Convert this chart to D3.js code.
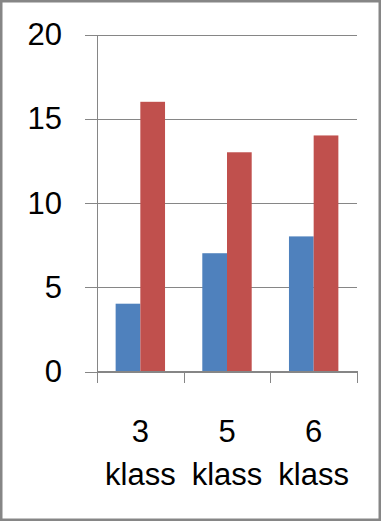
<!DOCTYPE html>
<html>
<head>
<meta charset="utf-8">
<style>
  body { margin: 0; background: #fff; }
  .grid line, .axis line, .axis path { stroke: #868686; stroke-width: 1; shape-rendering: crispEdges; }
  text { font-family: "Liberation Sans", Arial, sans-serif; fill: #000; }
</style>
</head>
<body>
<script src="https://d3js.org/d3.v7.min.js"></script>
<div class="chart"></div>
<script>
var categories = ["3 klass", "5 klass", "6 klass"],
    seriesNames = ["Series1", "Series2"],
    blueValues = [4, 7, 8],
    redValues = [16, 13, 14],
    yTicks = [0, 5, 10, 15, 20];

var colors = ["#4F81BD", "#C0504D"];
var width = 381, height = 521;
var margin = {top: 34.5, right: 24, bottom: 150, left: 97};
var innerW = width - margin.left - margin.right,
    innerH = 371 - margin.top;

var data = categories.map(function(c, i) {
  return {cat: c, values: [blueValues[i], redValues[i]]};
});

var svg = d3.select(".chart").append("svg")
    .attr("width", width)
    .attr("height", height);

// outer border
svg.append("rect")
    .attr("x", 1.25).attr("y", 1.25)
    .attr("width", width - 2.5).attr("height", height - 2.5)
    .attr("fill", "none")
    .attr("stroke", "#868686")
    .attr("stroke-width", 2.5);

var g = svg.append("g")
    .attr("transform", "translate(" + margin.left + "," + margin.top + ")");

var x0 = d3.scaleBand()
    .domain(categories)
    .range([0, innerW])
    .paddingInner(0.43)
    .paddingOuter(0.215);

var x1 = d3.scaleBand()
    .domain(seriesNames)
    .range([0, x0.bandwidth()]);

var y = d3.scaleLinear()
    .domain([0, 20])
    .range([innerH, 0]);

// gridlines with left tick marks
g.append("g")
    .attr("class", "grid")
    .selectAll("line")
    .data(yTicks)
    .enter().append("line")
    .attr("x1", -12)
    .attr("x2", innerW)
    .attr("y1", function(d) { return Math.round(y(d)) + 0.5; })
    .attr("y2", function(d) { return Math.round(y(d)) + 0.5; });

// y labels
g.selectAll(".ylabel")
    .data(yTicks)
    .enter().append("text")
    .attr("class", "ylabel")
    .attr("x", -35)
    .attr("y", function(d) { return y(d); })
    .attr("dy", "0.35em")
    .attr("text-anchor", "end")
    .style("font-size", "31px")
    .text(function(d) { return d; });

// bars
var groups = g.selectAll(".group")
    .data(data)
    .enter().append("g")
    .attr("class", "group")
    .attr("transform", function(d) { return "translate(" + x0(d.cat) + ",0)"; });

groups.selectAll("rect")
    .data(function(d) { return d.values.map(function(v, i) { return {s: seriesNames[i], v: v, i: i}; }); })
    .enter().append("rect")
    .attr("x", function(d) { return x1(d.s); })
    .attr("width", x1.bandwidth())
    .attr("y", function(d) { return y(d.v); })
    .attr("height", function(d) { return innerH - y(d.v); })
    .attr("fill", function(d) { return colors[d.i]; });

// x axis
var xAxis = g.append("g")
    .attr("class", "axis")
    .attr("transform", "translate(0," + innerH + ")");

xAxis.append("line")
    .attr("x1", 0).attr("x2", innerW)
    .attr("y1", 0.5).attr("y2", 0.5);

// y axis line
g.append("g").attr("class", "axis").append("line")
    .attr("x1", 0.5).attr("x2", 0.5)
    .attr("y1", 0).attr("y2", innerH + 12);

var step = x0.step();
xAxis.selectAll(".tick")
    .data(d3.range(categories.length + 1))
    .enter().append("line")
    .attr("class", "tick")
    .attr("x1", function(i) { return Math.round(i * innerW / categories.length) + 0.5; })
    .attr("x2", function(i) { return Math.round(i * innerW / categories.length) + 0.5; })
    .attr("y1", 0).attr("y2", 12);

var labels = xAxis.selectAll(".xlabel")
    .data(categories)
    .enter().append("text")
    .attr("class", "xlabel")
    .attr("text-anchor", "middle")
    .attr("transform", function(d) { return "translate(" + (x0(d) + x0.bandwidth() / 2) + ",0)"; })
    .style("font-size", "31px");

labels.selectAll("tspan")
    .data(function(d) { return d.split(" "); })
    .enter().append("tspan")
    .attr("x", 0)
    .attr("y", function(d, i) { return 71 + i * 43; })
    .text(function(d) { return d; });
</script>
</body>
</html>
